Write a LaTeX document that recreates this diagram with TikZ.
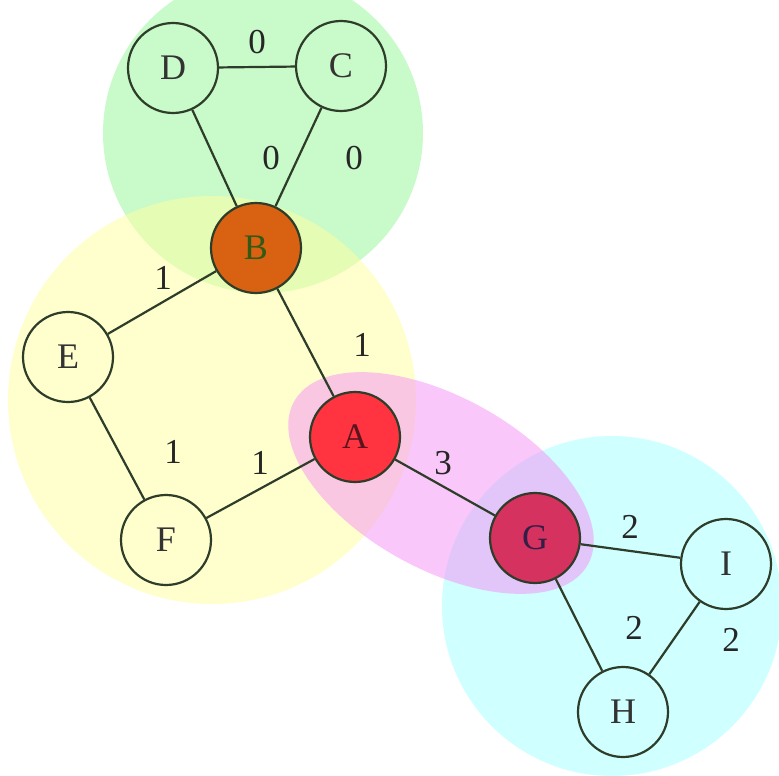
\documentclass[tikz,border=0pt]{standalone}
\usepackage{fontspec}
\setmainfont{Liberation Serif}
\definecolor{blobgreen}{rgb}{0.58,0.96,0.58}
\definecolor{blobyellow}{rgb}{1,1,0.62}
\definecolor{blobmag}{rgb}{0.96,0.56,0.96}
\definecolor{blobcyan}{rgb}{0.58,1,1}
\definecolor{linecol}{rgb}{0.18,0.24,0.16}
\begin{document}
\begin{tikzpicture}[x=1pt,y=-1pt,
  vtx/.style={circle,draw=linecol,line width=2.2pt,minimum size=90pt,inner sep=0pt,font=\fontsize{36}{36}\selectfont,text=black!80},
  edge/.style={draw=linecol,line width=2.2pt},
  wlab/.style={font=\fontsize{35}{35}\selectfont,text=black!85}]
\useasboundingbox (0,0) rectangle (779,776);
% blobs
\fill[blobgreen,fill opacity=0.5] (263,133) circle (160);
\fill[blobyellow,fill opacity=0.5] (212,400) circle (204);
\fill[blobcyan,fill opacity=0.45] (612,606) circle (170);
\fill[blobmag,fill opacity=0.5] (441,483) [rotate around={-29:(441,483)}] ellipse (168 and 86);
% nodes
\node[vtx] (D) at (173,68) {D};
\node[vtx] (C) at (341,66) {C};
\node[vtx,fill={rgb,255:red,217;green,98;blue,18},text={rgb,255:red,50;green,90;blue,20}] (B) at (256,248) {B};
\node[vtx] (E) at (68,357) {E};
\node[vtx,fill={rgb,255:red,255;green,52;blue,64},text={rgb,255:red,90;green,20;blue,30}] (A) at (355,437) {A};
\node[vtx] (F) at (166,540) {F};
\node[vtx,fill={rgb,255:red,214;green,50;blue,96},text={rgb,255:red,50;green,30;blue,70}] (G) at (535,538) {G};
\node[vtx] (I) at (726,564) {I};
\node[vtx] (H) at (623,712) {H};
% edges
\draw[edge] (D) -- (C);
\draw[edge] (D) -- (B);
\draw[edge] (C) -- (B);
\draw[edge] (B) -- (E);
\draw[edge] (B) -- (A);
\draw[edge] (E) -- (F);
\draw[edge] (F) -- (A);
\draw[edge] (A) -- (G);
\draw[edge] (G) -- (I);
\draw[edge] (G) -- (H);
\draw[edge] (I) -- (H);
% weights
\node[wlab] (wDC) at (257,42) {0};
\node[wlab] (wDB) at (271,158) {0};
\node[wlab] (wCB) at (354,158) {0};
\node[wlab] (wBE) at (163,278) {1};
\node[wlab] (wBA) at (362,345) {1};
\node[wlab] (wEF) at (173,452) {1};
\node[wlab] (wFA) at (260,463) {1};
\node[wlab] (wAG) at (443,463) {3};
\node[wlab] (wGI) at (630,527) {2};
\node[wlab] (wGH) at (634,628) {2};
\node[wlab] (wIH) at (731,640) {2};
\end{tikzpicture}
\end{document}
